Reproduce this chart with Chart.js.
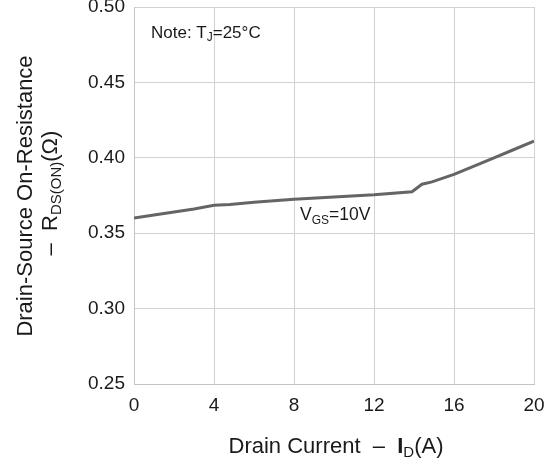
<!DOCTYPE html>
<html>
<head>
<meta charset="utf-8">
<script src="https://cdn.jsdelivr.net/npm/chart.js@4/dist/chart.umd.min.js"></script>
<style>
html,body{margin:0;padding:0;background:#fff;}
#wrap{width:545px;height:464px;position:relative;}
</style>
</head>
<body>
<div id="wrap"><canvas id="c" width="545" height="464"></canvas></div>
<script>
// Data
const drainCurrent = [0, 1, 2, 3, 4, 4.8, 6, 7, 8, 10, 12, 13.9, 14.4, 14.9, 16, 17, 18, 19, 20];
const rdsOn        = [0.360, 0.362, 0.364, 0.366, 0.3685, 0.369, 0.3705, 0.3715, 0.3725, 0.374, 0.3755, 0.3775, 0.3825, 0.384, 0.389, 0.3945, 0.4, 0.4055, 0.411];
const xTicks = [0, 4, 8, 12, 16, 20];
const yTicks = [0.25, 0.30, 0.35, 0.40, 0.45, 0.50];
const seriesLabel = 'VGS=10V';

const FONT = '"Liberation Sans", Arial, sans-serif';

function drawRich(ctx, parts, x, y, size, align) {
  const measure = p => {
    ctx.font = (p.bold ? 'bold ' : '') + (p.sub ? Math.round(size*0.68) : size) + 'px ' + FONT;
    return ctx.measureText(p.t).width;
  };
  let total = 0;
  parts.forEach(p => total += measure(p));
  let cx = align === 'center' ? x - total/2 : x;
  ctx.textBaseline = 'alphabetic';
  ctx.textAlign = 'left';
  parts.forEach(p => {
    const w = measure(p);
    ctx.fillText(p.t, cx, y + (p.sub ? size*0.2 : 0));
    cx += w;
  });
}

const annot = {
  id: 'annot',
  afterDraw(chart) {
    const ctx = chart.ctx;
    ctx.save();
    ctx.fillStyle = '#1a1a1a';
    drawRich(ctx, [{t:'Drain Current  \u2013  '},{t:'I', bold:true},{t:'D', sub:true},{t:'(A)'}], 336, 453, 22, 'center');
    ctx.save();
    ctx.translate(32, 196);
    ctx.rotate(-Math.PI/2);
    drawRich(ctx, [{t:'Drain-Source On-Resistance'}], 0, 0, 22, 'center');
    ctx.restore();
    ctx.save();
    ctx.translate(57, 193);
    ctx.rotate(-Math.PI/2);
    drawRich(ctx, [{t:'\u2013  R'},{t:'DS(ON)', sub:true},{t:'(Ω)'}], 0, 0, 22, 'center');
    ctx.restore();
    drawRich(ctx, [{t:'Note: T'},{t:'J', sub:true},{t:'=25°C'}], 151, 38, 17, 'left');
    drawRich(ctx, [{t:'V'},{t:'GS', sub:true},{t:'=10V'}], 300, 220, 17.5, 'left');
    ctx.restore();
  }
};

function zeroPad(s) { s.paddingTop = 0; s.paddingBottom = 0; s.paddingLeft = 0; s.paddingRight = 0; }

new Chart(document.getElementById('c'), {
  type: 'line',
  data: {
    datasets: [{
      label: seriesLabel,
      data: drainCurrent.map((x, i) => ({x: x, y: rdsOn[i]})),
      borderColor: '#656565',
      borderWidth: 3,
      pointRadius: 0,
      tension: 0,
      fill: false
    }]
  },
  options: {
    responsive: false,
    animation: false,
    layout: {padding: {top: 7, right: 11, left: 0, bottom: 0}},
    plugins: {legend: {display: false}, tooltip: {enabled: false}},
    scales: {
      x: {
        type: 'linear', min: 0, max: 20,
        afterFit(s) { s.height = 80; zeroPad(s); },
        afterBuildTicks(s) { s.ticks = xTicks.map(v => ({value: v})); },
        grid: {color: '#d2d2d2', lineWidth: 1, drawTicks: false},
        border: {color: '#c4c4c4'},
        ticks: {color: '#1a1a1a', font: {family: FONT, size: 19}, padding: 10, maxRotation: 0,
                callback: v => String(v)}
      },
      y: {
        type: 'linear', min: 0.25, max: 0.50,
        afterFit(s) { s.width = 134; zeroPad(s); },
        afterBuildTicks(s) { s.ticks = yTicks.map(v => ({value: v})); },
        grid: {color: '#d2d2d2', lineWidth: 1, drawTicks: false},
        border: {color: '#c4c4c4'},
        ticks: {color: '#1a1a1a', font: {family: FONT, size: 19}, padding: 9,
                callback: v => Number(v).toFixed(2)}
      }
    }
  },
  plugins: [annot]
});
</script>
</body>
</html>
